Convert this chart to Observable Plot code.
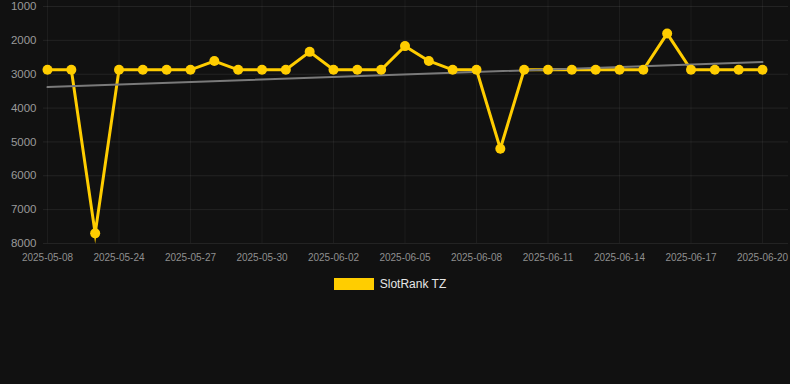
<!DOCTYPE html>
<html>
<head>
<meta charset="utf-8">
<script src="https://cdn.jsdelivr.net/npm/d3@7"></script>
<script src="https://cdn.jsdelivr.net/npm/@observablehq/plot@0.6"></script>
<style>
  html, body { margin: 0; padding: 0; background: #111111; }
  #wrap { width: 790px; height: 384px; background: #111111; font-family: "Liberation Sans", Arial, sans-serif; }
  #legend { width: 780px; display: flex; justify-content: center; align-items: center; margin-top: 13px; height: 12px; }
  #legend .sw { width: 40px; height: 12px; background: #ffcd00; margin-right: 6px; }
  #legend .lb { color: #e6e6e6; font-size: 12px; line-height: 12px; }
</style>
</head>
<body>
<div id="wrap"><div id="chart"></div><div id="legend"><div class="sw"></div><div class="lb">SlotRank TZ</div></div></div>
<script>
const dates = [
  "2025-05-08", "2025-05-09", "2025-05-23", "2025-05-24", "2025-05-25", "2025-05-26",
  "2025-05-27", "2025-05-28", "2025-05-29", "2025-05-30", "2025-05-31", "2025-06-01",
  "2025-06-02", "2025-06-03", "2025-06-04", "2025-06-05", "2025-06-06", "2025-06-07",
  "2025-06-08", "2025-06-09", "2025-06-10", "2025-06-11", "2025-06-12", "2025-06-13",
  "2025-06-14", "2025-06-15", "2025-06-16", "2025-06-17", "2025-06-18", "2025-06-19",
  "2025-06-20"
];
const ranks = [
  2870, 2870, 7700, 2870, 2870, 2870,
  2870, 2610, 2870, 2870, 2870, 2340,
  2870, 2870, 2870, 2170, 2610, 2870,
  2870, 5200, 2870, 2870, 2870, 2870,
  2870, 2870, 1800, 2870, 2870, 2870,
  2870
];
const yTicks = [1000, 2000, 3000, 4000, 5000, 6000, 7000, 8000];
const seriesName = "SlotRank TZ";

const data = dates.map((d, i) => ({i, date: d, rank: ranks[i]}));
const xTicks = dates.map((d, i) => i).filter(i => i % 3 === 0);

const yellow = "#ffcd00";

const chart = Plot.plot({
  width: 790,
  height: 265,
  marginLeft: 47,
  marginRight: 28,
  marginTop: 6,
  marginBottom: 22,
  style: {background: "#111111", fontFamily: "Liberation Sans, Arial, sans-serif"},
  x: {type: "linear", domain: [0, dates.length - 1]},
  y: {domain: [1000, 8000], reverse: true},
  marks: [
    Plot.gridY(yTicks, {stroke: "#ffffff", strokeOpacity: 0.08, insetLeft: -4, insetRight: -26}),
    Plot.gridX(xTicks, {stroke: "#ffffff", strokeOpacity: 0.05, insetTop: -6}),
    Plot.axisY(yTicks, {tickSize: 0, tickPadding: 11, fontSize: 11.5, fill: "#9a9a9a", label: null, tickFormat: d => String(d)}),
    Plot.axisX(xTicks, {tickSize: 0, tickPadding: 10, fontSize: 10, fill: "#8f8f8f", label: null, tickFormat: i => dates[i]}),
    Plot.line(data, {x: "i", y: "rank", stroke: yellow, strokeWidth: 3, strokeLinejoin: "miter", strokeMiterlimit: 10}),
    Plot.linearRegressionY(data, {x: "i", y: "rank", stroke: "#7a7a7a", strokeWidth: 2, ci: 0}),
    Plot.dot(data, {x: "i", y: "rank", r: 5, fill: yellow, stroke: "none"})
  ]
});
document.getElementById("chart").appendChild(chart);
</script>
</body>
</html>
